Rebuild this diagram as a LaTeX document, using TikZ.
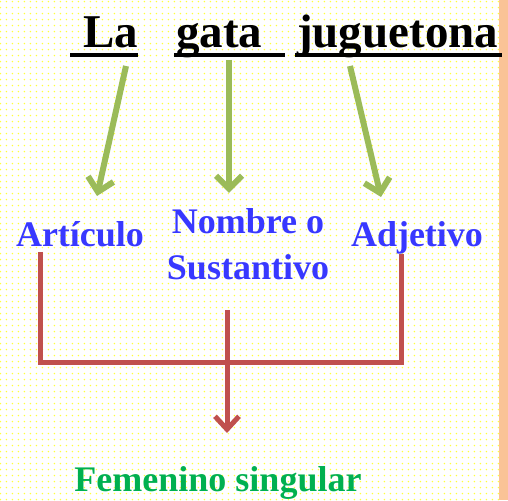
\documentclass[tikz,border=0pt]{standalone}
\usepackage{fontspec}
\setmainfont{Liberation Serif}
\usetikzlibrary{arrows.meta,patterns}
\pgfdeclarepatternformonly{ydots}{\pgfqpoint{0pt}{0pt}}{\pgfqpoint{6.3pt}{6.3pt}}{\pgfqpoint{6.3pt}{6.3pt}}{%
  \pgfpathcircle{\pgfqpoint{1.6pt}{1.6pt}}{0.9pt}%
  \pgfusepath{fill}}
\definecolor{bluetxt}{RGB}{56,56,255}
\definecolor{greentxt}{RGB}{0,176,80}
\definecolor{garrowc}{RGB}{155,187,89}
\definecolor{rline}{RGB}{192,80,77}
\definecolor{peach}{RGB}{250,195,150}
\definecolor{dotc}{RGB}{255,255,60}
\tikzset{
  title/.style={inner sep=0pt, anchor=base west, font=\fontsize{47}{56}\selectfont\bfseries},
  ulinestyle/.style={line width=4.5pt},
  label/.style={inner sep=0pt, anchor=base, text=bluetxt, font=\fontsize{36}{46}\selectfont\bfseries},
  garrow/.style={draw=garrowc, line width=6pt, -{Straight Barb[length=13pt,width=26pt,line width=6pt]}},
  rline/.style={draw=rline, line width=5pt},
  rarrow/.style={rline, -{Straight Barb[length=13pt,width=24pt,line width=5pt]}},
}
\begin{document}
\begin{tikzpicture}[x=1pt,y=1pt]
\useasboundingbox (0,0) rectangle (508,500);
\fill[white] (0,0) rectangle (508,500);
\fill[pattern=ydots, pattern color=dotc] (0,0) rectangle (499,500);
\fill[peach] (499,0) rectangle (508,500);

% title words
\node[title] (la) at (83,452) {La};
\node[title] (gata) at (176,452) {gata};
\node[title] (jug) at (297,452) {juguetona};
\coordinate (laU1) at (70,445);  \coordinate (laU2) at (138,445);
\coordinate (gaU1) at (174,445); \coordinate (gaU2) at (285,445);
\coordinate (juU1) at (295,445); \coordinate (juU2) at (502,445);
\draw[ulinestyle] (laU1) -- (laU2);
\draw[ulinestyle] (gaU1) -- (gaU2);
\draw[ulinestyle] (juU1) -- (juU2);

% labels
\node[label] (art) at (80,253) {Artículo};
\node[label, align=center] (nom) at (248,220) {Nombre o\\Sustantivo};
\node[label] (adj) at (417,253) {Adjetivo};

% green arrows
\coordinate (g1s) at (126,434); \coordinate (g1e) at (97,304);
\coordinate (g2s) at (229,440); \coordinate (g2e) at (229,307);
\coordinate (g3s) at (350,434); \coordinate (g3e) at (381,303);
\draw[garrow] (g1s) -- (g1e);
\draw[garrow] (g2s) -- (g2e);
\draw[garrow] (g3s) -- (g3e);

% red connector
\coordinate (rL) at (40,248);
\coordinate (rR) at (401,246);
\coordinate (rC) at (227,190);
\draw[rline, line join=miter] (rL) -- (40,137) -- (401,137) -- (rR);
\node[inner sep=0pt, anchor=base, text=greentxt, font=\fontsize{36}{44}\selectfont\bfseries] (fem) at (218,9) {Femenino singular};
\coordinate (rT) at (227,67);
\draw[rarrow] (rC) -- (rT);
\end{tikzpicture}
\end{document}
